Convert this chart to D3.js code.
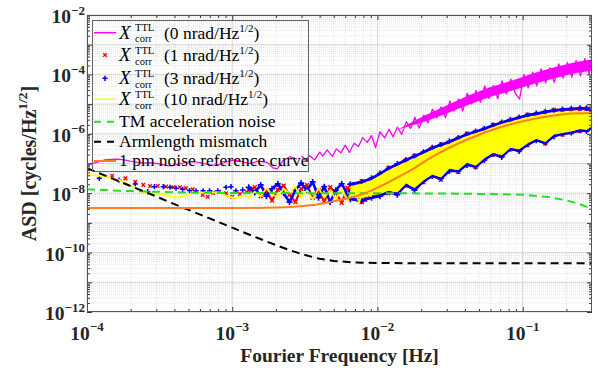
<!DOCTYPE html>
<html>
<head>
<meta charset="utf-8">
<script src="https://cdn.jsdelivr.net/npm/d3@7"></script>
<style>
  body { margin: 0; background: #fff; }
  svg { display: block; }
  text { font-family: "Liberation Serif", "Times New Roman", serif; }
</style>
</head>
<body>
<div id="chart"></div>
<script>
// all ASD values below are log10(cycles/Hz^1/2), frequencies in Hz
const xTickExps = [-4, -3, -2, -1];
const yTickExps = [-12, -10, -8, -6, -4, -2];

// X_corr^TTL, 0 nrad/Hz^1/2 (magenta)
const magLowF = [1e-4, 1.135e-4, 1.23e-4, 1.33e-4, 1.46e-4, 1.61e-4, 1.8e-4, 1.98e-4, 2.24e-4, 2.51e-4,
  2.8e-4, 3.18e-4, 3.5e-4, 3.85e-4, 4.37e-4, 4.96e-4, 5.54e-4, 6.2e-4, 7.03e-4, 7.98e-4,
  9.06e-4, 1.045e-3, 1.19e-3, 1.33e-3, 1.51e-3, 1.74e-3, 1.91e-3, 2.04e-3, 2.24e-3, 2.5e-3, 2.79e-3];
const magLowV = [-7.03, -6.98, -6.93, -6.88, -6.86, -6.85, -6.88, -6.92, -6.96, -6.99,
  -6.97, -7.02, -7.06, -7.08, -7.0, -6.95, -6.94, -6.99, -7.05, -7.05,
  -6.95, -6.88, -6.95, -7.0, -6.92, -6.96, -7.15, -7.18, -6.9, -6.77, -6.85];
const magHighF = [0.0030, 0.0032, 0.0034, 0.0037, 0.0040, 0.0042, 0.0045, 0.0049, 0.0052, 0.0056,
  0.0060, 0.0064, 0.0069, 0.0074, 0.0079, 0.0085, 0.0091, 0.0097, 0.0104, 0.0112,
  0.012, 0.0128, 0.0137, 0.0147, 0.0158, 0.0169, 0.0181, 0.0194, 0.0208, 0.0223,
  0.0239, 0.0256, 0.0274, 0.0294, 0.0315, 0.0337, 0.0361, 0.0387, 0.0415, 0.0445,
  0.0477, 0.0511, 0.0547, 0.0586, 0.0628, 0.0673, 0.0721, 0.0773, 0.0828, 0.0887,
  0.0951, 0.102, 0.109, 0.117, 0.125, 0.134, 0.144, 0.154, 0.165, 0.177,
  0.19, 0.203, 0.218, 0.233, 0.25, 0.268, 0.287, 0.3];
const magHighV = [-6.74, -6.90, -6.73, -6.88, -6.62, -6.75, -6.54, -6.76, -6.51, -6.64,
  -6.38, -6.63, -6.32, -6.43, -6.13, -6.29, -6.06, -6.46, -5.93, -6.14,
  -5.85, -6.10, -5.78, -6.02, -5.59, -5.82, -5.44, -5.81, -5.37, -5.63,
  -5.17, -5.47, -5.10, -5.46, -4.89, -5.23, -4.83, -5.23, -4.63, -5.00,
  -4.54, -4.94, -4.39, -4.81, -4.37, -4.82, -4.21, -4.66, -4.16, -4.63,
  -4.83, -4.00, -4.45, -3.92, -4.39, -3.81, -4.28, -3.77, -4.27, -3.65,
  -4.12, -3.60, -4.09, -3.54, -4.05, -3.47, -3.99, -3.45];
// solid core of the dense magenta trace
const magCoreF = [0.0137, 0.0208, 0.0294, 0.0415, 0.0586, 0.0828, 0.117, 0.165, 0.233, 0.3];
const magCoreHi = [-5.86, -5.40, -5.06, -4.73, -4.44, -4.22, -3.97, -3.76, -3.58, -3.50];
const magCoreLo = [-5.86, -5.60, -5.33, -5.04, -4.77, -4.56, -4.33, -4.13, -3.95, -3.88];

// shared frequency grids for the mid and high parts of the 1/3/10 nrad traces
const midF = [1.3e-3, 1.43e-3, 1.57e-3, 1.72e-3, 1.88e-3, 2.06e-3, 2.26e-3, 2.48e-3, 2.72e-3, 2.98e-3,
  3.27e-3, 3.58e-3, 3.93e-3, 4.3e-3, 4.72e-3, 5.17e-3, 5.67e-3, 6.22e-3, 6.82e-3, 7.48e-3,
  8.2e-3, 8.99e-3, 9.86e-3, 0.0108];
const hiF = [0.0065, 0.0078, 0.0091, 0.0104, 0.0119, 0.0137, 0.0157, 0.018, 0.0207, 0.0238,
  0.0273, 0.0313, 0.036, 0.0413, 0.0474, 0.0544, 0.0625, 0.0717, 0.0823, 0.0945,
  0.108, 0.124, 0.143, 0.164, 0.188, 0.216, 0.248, 0.275, 0.3];

// 1 nrad/Hz^1/2 (red x markers)
const redLowF = [1.49e-4, 1.84e-4, 2.15e-4, 2.44e-4, 2.72e-4, 3.07e-4, 3.5e-4, 3.93e-4, 4.37e-4, 4.8e-4,
  5.35e-4, 6.26e-4, 6.78e-4, 7.38e-4, 8.15e-4, 9.06e-4, 1.0e-3, 1.13e-3, 1.26e-3];
const redLowV = [-7.41, -7.50, -7.62, -7.72, -7.76, -7.76, -7.78, -7.80, -7.80, -7.83,
  -7.87, -8.06, -8.12, -7.99, -7.95, -8.0, -8.12, -8.03, -7.96];
const redMidV = [-7.9, -7.8, -8.1, -7.92, -8.25, -7.88, -7.75, -8.05, -8.3, -7.85,
  -7.72, -8.15, -7.9, -8.28, -7.8, -7.98, -8.32, -7.82, -8.12, -7.75,
  -8.22, -7.7, -8.02, -7.62];
const redHi = [-7.72, -7.6, -7.52, -7.38, -7.15, -7.05, -6.9, -6.74, -6.65, -6.5,
  -6.36, -6.3, -6.16, -6.0, -5.95, -5.85, -5.7, -5.64, -5.55, -5.47,
  -5.36, -5.34, -5.28, -5.2, -5.2, -5.18, -5.16, -5.16, -5.24];
const redLo = [-8.15, -8.3, -8.1, -8.05, -8.0, -7.98, -7.75, -7.85, -7.62, -7.4,
  -7.55, -7.2, -7.28, -7.0, -7.12, -6.85, -6.7, -6.75, -6.52, -6.55,
  -6.38, -6.2, -6.32, -6.05, -6.02, -5.95, -5.9, -5.88, -5.78];

// 3 nrad/Hz^1/2 (blue + markers)
const blueLowF = [1.215e-4, 1.66e-4, 2.15e-4, 2.62e-4, 2.91e-4, 3.35e-4, 3.73e-4, 4.1e-4, 4.56e-4, 5.08e-4,
  5.63e-4, 6.3e-4, 6.98e-4, 7.95e-4, 9.06e-4, 9.81e-4, 1.06e-3, 1.18e-3];
const blueLowV = [-7.50, -7.56, -7.69, -7.95, -7.78, -7.78, -7.80, -7.83, -7.87, -7.91,
  -7.92, -7.92, -7.92, -7.92, -7.80, -7.78, -7.92, -7.89];
const blueMidV = [-7.8, -7.98, -7.72, -8.1, -7.85, -7.68, -8.0, -8.3, -7.9, -7.66,
  -7.9, -7.62, -8.15, -7.78, -8.3, -7.9, -7.68, -8.05, -7.72, -8.2,
  -7.66, -7.88, -7.5, -7.78];
const blueHi = [-7.7, -7.62, -7.5, -7.34, -7.17, -7.02, -6.88, -6.76, -6.62, -6.47,
  -6.38, -6.26, -6.14, -6.02, -5.92, -5.83, -5.72, -5.62, -5.53, -5.45,
  -5.38, -5.32, -5.26, -5.22, -5.18, -5.16, -5.14, -5.14, -5.22];
const blueLo = [-8.2, -8.25, -8.15, -8.1, -7.95, -8.05, -7.7, -7.9, -7.6, -7.42,
  -7.5, -7.25, -7.25, -7.05, -7.1, -6.88, -6.68, -6.78, -6.5, -6.58,
  -6.35, -6.22, -6.3, -6.08, -6.0, -5.96, -5.88, -5.9, -5.8];

// 10 nrad/Hz^1/2 (yellow)
const yelLowF = [1e-4, 1.28e-4, 1.67e-4, 2.06e-4, 2.42e-4, 2.83e-4, 3.3e-4, 3.69e-4, 4.1e-4, 4.5e-4,
  5.33e-4, 6.49e-4, 8.14e-4, 9.06e-4, 1.06e-3, 1.2e-3];
const yelLowV = [-7.39, -7.42, -7.56, -7.78, -7.95, -8.0, -8.05, -8.10, -8.15, -8.12,
  -8.0, -7.98, -7.97, -8.09, -8.17, -8.06];
const yelMidV = [-8.15, -7.95, -8.1, -7.83, -8.05, -8.12, -7.85, -8.0, -7.78, -8.15,
  -7.9, -8.2, -7.83, -8.15, -7.9, -8.2, -7.85, -8.25, -7.8, -8.3,
  -7.7, -8.1, -7.55, -7.95];
const yelHi = [-7.78, -7.7, -7.58, -7.42, -7.25, -7.10, -6.98, -6.85, -6.70, -6.56,
  -6.46, -6.35, -6.22, -6.10, -6.00, -5.91, -5.80, -5.69, -5.61, -5.53,
  -5.46, -5.40, -5.35, -5.31, -5.28, -5.26, -5.25, -5.26, -5.28];
const yelLo = [-8.1, -8.15, -8.05, -8.0, -7.9, -7.95, -7.65, -7.8, -7.55, -7.35,
  -7.45, -7.15, -7.2, -6.95, -7.05, -6.8, -6.62, -6.7, -6.45, -6.5,
  -6.3, -6.15, -6.25, -6.0, -5.95, -5.9, -5.82, -5.85, -5.72];

// TM acceleration noise (green dashed)
const tmF = [1e-4, 2e-4, 5e-4, 1e-3, 3e-3, 0.01, 0.03, 0.06, 0.1, 0.15, 0.2, 0.25, 0.3];
const tmV = [-7.87, -7.93, -7.98, -7.99, -8.0, -8.0, -8.01, -8.03, -8.05, -8.13, -8.24, -8.38, -8.53];

// Armlength mismatch (black dashed)
const armF = [1e-4, 1.5e-4, 2e-4, 3e-4, 4e-4, 5e-4, 7e-4, 1e-3, 1.5e-3, 2e-3, 2.5e-3, 3e-3,
  4e-3, 5e-3, 7e-3, 1e-2, 2e-2, 0.3];
const armV = [-7.16, -7.51, -7.76, -8.11, -8.37, -8.56, -8.85, -9.16, -9.51, -9.75, -9.92, -10.05,
  -10.21, -10.28, -10.335, -10.35, -10.36, -10.36];

// 1 pm noise reference curve (orange)
const refF = [1e-4, 5e-4, 1e-3, 2e-3, 3e-3, 3.6e-3, 4.7e-3, 6.15e-3, 8e-3, 0.0104, 0.0136, 0.0168,
  0.0241, 0.0412, 0.07, 0.118, 0.2, 0.3];
const refV = [-8.50, -8.50, -8.50, -8.48, -8.44, -8.40, -8.30, -8.18, -8.02, -7.78, -7.48, -7.24,
  -6.76, -6.20, -5.78, -5.50, -5.33, -5.30];

const legendTexts = ["(0 nrad/Hz", "(1 nrad/Hz", "(3 nrad/Hz", "(10 nrad/Hz",
  "TM acceleration noise", "Armlength mismatch", "1 pm noise reference curve"];

const colMag = "#ff00ff", colRed = "#ff0000", colBlue = "#0000ff", colYel = "#ffff00",
  colGreen = "#22e022", colBlack = "#000000", colOrange = "#ff7f1e";

//-------------------------------------------------------------
const W = 598, H = 368;
const margin = {top: 15, right: 6, bottom: 56, left: 87};
const pw = W - margin.left - margin.right, ph = H - margin.top - margin.bottom;

const svg = d3.select("#chart").append("svg").attr("width", W).attr("height", H);

const x = d3.scaleLog().domain([1e-4, 0.3]).range([margin.left, margin.left + pw]);
const y = d3.scaleLog().domain([1e-12, 1e-2]).range([margin.top + ph, margin.top]);
const yv = v => y(Math.pow(10, v));

function zip(f, v) { return f.map((d, i) => ({f: d, v: v[i]})); }
function zipBand(f, lo, hi) { return f.map((d, i) => ({f: d, lo: lo[i], hi: hi[i]})); }

const xMajor = xTickExps.map(e => Math.pow(10, e));
const xMinor = [];
xTickExps.forEach(e => { for (let k = 2; k <= 9; k++) { const v = k * Math.pow(10, e); if (v <= 0.3) xMinor.push(v); } });
const yMajor = d3.range(-12, -1).map(e => Math.pow(10, e));
const yMinor = [];
d3.range(-12, -2).forEach(e => { for (let k = 2; k <= 9; k++) yMinor.push(k * Math.pow(10, e)); });

// grid
const grid = svg.append("g");
grid.selectAll(".xmin").data(xMinor).enter().append("line")
  .attr("x1", d => x(d)).attr("x2", d => x(d)).attr("y1", margin.top).attr("y2", margin.top + ph)
  .attr("stroke", "#e3e3e3").attr("stroke-width", 1).attr("stroke-dasharray", "1,1");
grid.selectAll(".ymin").data(yMinor).enter().append("line")
  .attr("y1", d => y(d)).attr("y2", d => y(d)).attr("x1", margin.left).attr("x2", margin.left + pw)
  .attr("stroke", "#e3e3e3").attr("stroke-width", 1).attr("stroke-dasharray", "1,1");
grid.selectAll(".xmaj").data(xMajor).enter().append("line")
  .attr("x1", d => x(d)).attr("x2", d => x(d)).attr("y1", margin.top).attr("y2", margin.top + ph)
  .attr("stroke", "#d6d6d6").attr("stroke-width", 1);
grid.selectAll(".ymaj").data(yMajor).enter().append("line")
  .attr("y1", d => y(d)).attr("y2", d => y(d)).attr("x1", margin.left).attr("x2", margin.left + pw)
  .attr("stroke", "#d6d6d6").attr("stroke-width", 1);

// data
svg.append("clipPath").attr("id", "clip").append("rect")
  .attr("x", margin.left).attr("y", margin.top).attr("width", pw).attr("height", ph);
const plot = svg.append("g").attr("clip-path", "url(#clip)");

const line = d3.line().x(d => x(d.f)).y(d => yv(d.v));
const area = d3.area().x(d => x(d.f)).y0(d => yv(d.lo)).y1(d => yv(d.hi));
const lineHi = d3.line().x(d => x(d.f)).y(d => yv(d.hi));
const lineLo = d3.line().x(d => x(d.f)).y(d => yv(d.lo));

function drawLine(data, color, w) {
  plot.append("path").datum(data).attr("d", line).attr("fill", "none")
    .attr("stroke", color).attr("stroke-width", w).attr("stroke-linejoin", "round");
}
function drawArea(data, color) {
  plot.append("path").datum(data).attr("d", area).attr("fill", color);
}
function drawEdges(data, color, w) {
  plot.append("path").datum(data).attr("d", lineHi).attr("fill", "none").attr("stroke", color).attr("stroke-width", w);
  plot.append("path").datum(data).attr("d", lineLo).attr("fill", "none").attr("stroke", color).attr("stroke-width", w);
}
function crossPath(s) { return `M${-s},${-s}L${s},${s}M${-s},${s}L${s},${-s}`; }
function plusPath(s) { return `M${-s},0L${s},0M0,${-s}L0,${s}`; }
function drawMarkers(data, path, color, w) {
  plot.append("g").selectAll("path").data(data).enter().append("path")
    .attr("transform", d => `translate(${x(d.f)},${yv(d.v)})`).attr("d", path)
    .attr("stroke", color).attr("stroke-width", w).attr("fill", "none");
}

// magenta
drawLine(zip(magLowF, magLowV), colMag, 1.2);
drawArea(zipBand(magCoreF, magCoreLo, magCoreHi), colMag);
drawLine(zip(magHighF, magHighV), colMag, 1.3);

// red
const redBand = zipBand(hiF, redLo, redHi);
drawLine(zip(midF, redMidV), colRed, 2.2);
drawMarkers(zip(midF, redMidV), crossPath(2), colRed, 1.4);
drawEdges(redBand, colRed, 2.4);
drawMarkers(zip(hiF, redHi).concat(zip(hiF, redLo)), crossPath(2), colRed, 1.4);
drawMarkers(zip(redLowF, redLowV), crossPath(1.8), colRed, 1.4);

// blue
const blueBand = zipBand(hiF, blueLo, blueHi);
drawLine(zip(midF, blueMidV), colBlue, 2.6);
drawMarkers(zip(midF, blueMidV), plusPath(3), colBlue, 1.6);
drawEdges(blueBand, colBlue, 2.6);
drawMarkers(zip(hiF, blueHi).concat(zip(hiF, blueLo)), plusPath(3), colBlue, 1.6);
drawMarkers(zip(blueLowF, blueLowV), plusPath(2.6), colBlue, 1.5);

// yellow
drawLine(zip(yelLowF.concat(midF), yelLowV.concat(yelMidV)), colYel, 1.8);
const yelBand = zipBand(hiF, yelLo, yelHi);
drawArea(yelBand, colYel);
drawEdges(yelBand, colYel, 1.2);

// green dashed, black dashed, orange
plot.append("path").datum(zip(tmF, tmV)).attr("d", line)
  .attr("fill", "none").attr("stroke", colGreen).attr("stroke-width", 2).attr("stroke-dasharray", "8,5");
plot.append("path").datum(zip(armF, armV)).attr("d", line)
  .attr("fill", "none").attr("stroke", colBlack).attr("stroke-width", 2).attr("stroke-dasharray", "8,5");
plot.append("path").datum(zip(refF, refV)).attr("d", d3.line().curve(d3.curveMonotoneX).x(d => x(d.f)).y(d => yv(d.v)))
  .attr("fill", "none").attr("stroke", colOrange).attr("stroke-width", 2);

// axes: ticks inside on all four sides
const axCol = "#3a3a3a";
function ticks(axisFn, scale, vals, size, tx, ty) {
  const g = svg.append("g").attr("transform", `translate(${tx},${ty})`)
    .call(axisFn(scale).tickValues(vals).tickSizeInner(-size).tickSizeOuter(0).tickFormat(""));
  g.select(".domain").remove();
  g.selectAll("line").attr("stroke", axCol);
}
ticks(d3.axisBottom, x, xMajor, 5, 0, margin.top + ph);
ticks(d3.axisBottom, x, xMinor, 3, 0, margin.top + ph);
ticks(d3.axisTop, x, xMajor, 5, 0, margin.top);
ticks(d3.axisTop, x, xMinor, 3, 0, margin.top);
ticks(d3.axisLeft, y, yMajor, 5, margin.left, 0);
ticks(d3.axisLeft, y, yMinor, 3, margin.left, 0);
ticks(d3.axisRight, y, yMajor, 5, margin.left + pw, 0);
ticks(d3.axisRight, y, yMinor, 3, margin.left + pw, 0);

svg.append("rect").attr("x", margin.left + 0.5).attr("y", margin.top + 0.5)
  .attr("width", pw - 1).attr("height", ph - 1).attr("fill", "none").attr("stroke", "#555").attr("stroke-width", 1);

// tick labels
function powLabel(px, py, exp, anchor) {
  const t = svg.append("text").attr("x", px).attr("y", py).attr("text-anchor", anchor)
    .attr("font-weight", "bold").attr("fill", "#262626");
  t.append("tspan").attr("font-size", 19.5).text("10");
  t.append("tspan").attr("font-size", 13).attr("dy", -8.5).text("\u2212" + Math.abs(exp));
}
xTickExps.forEach(e => powLabel(x(Math.pow(10, e)), 339.5, e, "middle"));
yTickExps.forEach(e => powLabel(85, y(Math.pow(10, e)) + 8, e, "end"));

// axis titles
svg.append("text").attr("x", margin.left + pw / 2).attr("y", 361.5).attr("text-anchor", "middle")
  .attr("font-weight", "bold").attr("font-size", 19.5).attr("fill", "#262626")
  .text("Fourier Frequency [Hz]");
const yl = svg.append("text").attr("transform", `translate(35.5,${margin.top + ph / 2}) rotate(-90)`)
  .attr("text-anchor", "middle").attr("font-weight", "bold")
  .attr("font-size", 20).attr("fill", "#262626");
yl.append("tspan").text("ASD [cycles/Hz");
yl.append("tspan").attr("font-size", 13.5).attr("dy", -9).text("1/2");
yl.append("tspan").attr("dy", 9).text("]");

// legend (transparent box)
const lg = svg.append("g");
lg.append("rect").attr("x", 92.5).attr("y", 20.5).attr("width", 216).attr("height", 151)
  .attr("fill", "none").attr("stroke", "#666").attr("stroke-width", 1);
const rowY = [32.7, 55, 78.3, 99.3, 121.7, 141.7, 161];
const sx0 = 94, sx1 = 116, tx0 = 119;
function sample(i, color, w, dash) {
  lg.append("line").attr("x1", sx0).attr("x2", sx1).attr("y1", rowY[i]).attr("y2", rowY[i])
    .attr("stroke", color).attr("stroke-width", w).attr("stroke-dasharray", dash);
}
sample(0, colMag, 1.5, null);
lg.append("path").attr("transform", `translate(105,${rowY[1]})`).attr("d", crossPath(1.8)).attr("stroke", colRed).attr("stroke-width", 1.4);
lg.append("path").attr("transform", `translate(105,${rowY[2]})`).attr("d", plusPath(2.6)).attr("stroke", colBlue).attr("stroke-width", 1.5);
sample(3, colYel, 1.5, null);
sample(4, colGreen, 2, "7,6");
sample(5, colBlack, 2, "7,6");
sample(6, colOrange, 2, null);

legendTexts.forEach((s, i) => {
  const t = lg.append("text").attr("font-size", 17.5).attr("fill", "#000");
  if (i < 4) {
    t.attr("y", rowY[i] + 6);
    t.append("tspan").attr("x", tx0).attr("font-style", "italic").attr("font-size", 19).text("X");
    t.append("tspan").attr("x", tx0 + 16).attr("dy", -7.5).attr("font-size", 10.5).text("TTL");
    t.append("tspan").attr("x", tx0 + 16).attr("dy", 11).attr("font-size", 10.5).text("corr");
    t.append("tspan").attr("x", tx0 + 45).attr("dy", -3.5).text(s);
    t.append("tspan").attr("dy", -7).attr("font-size", 11).text("1/2");
    t.append("tspan").attr("dy", 7).text(")");
  } else {
    t.attr("y", rowY[i] + 5).append("tspan").attr("x", tx0).text(s);
  }
});
</script>
</body>
</html>
